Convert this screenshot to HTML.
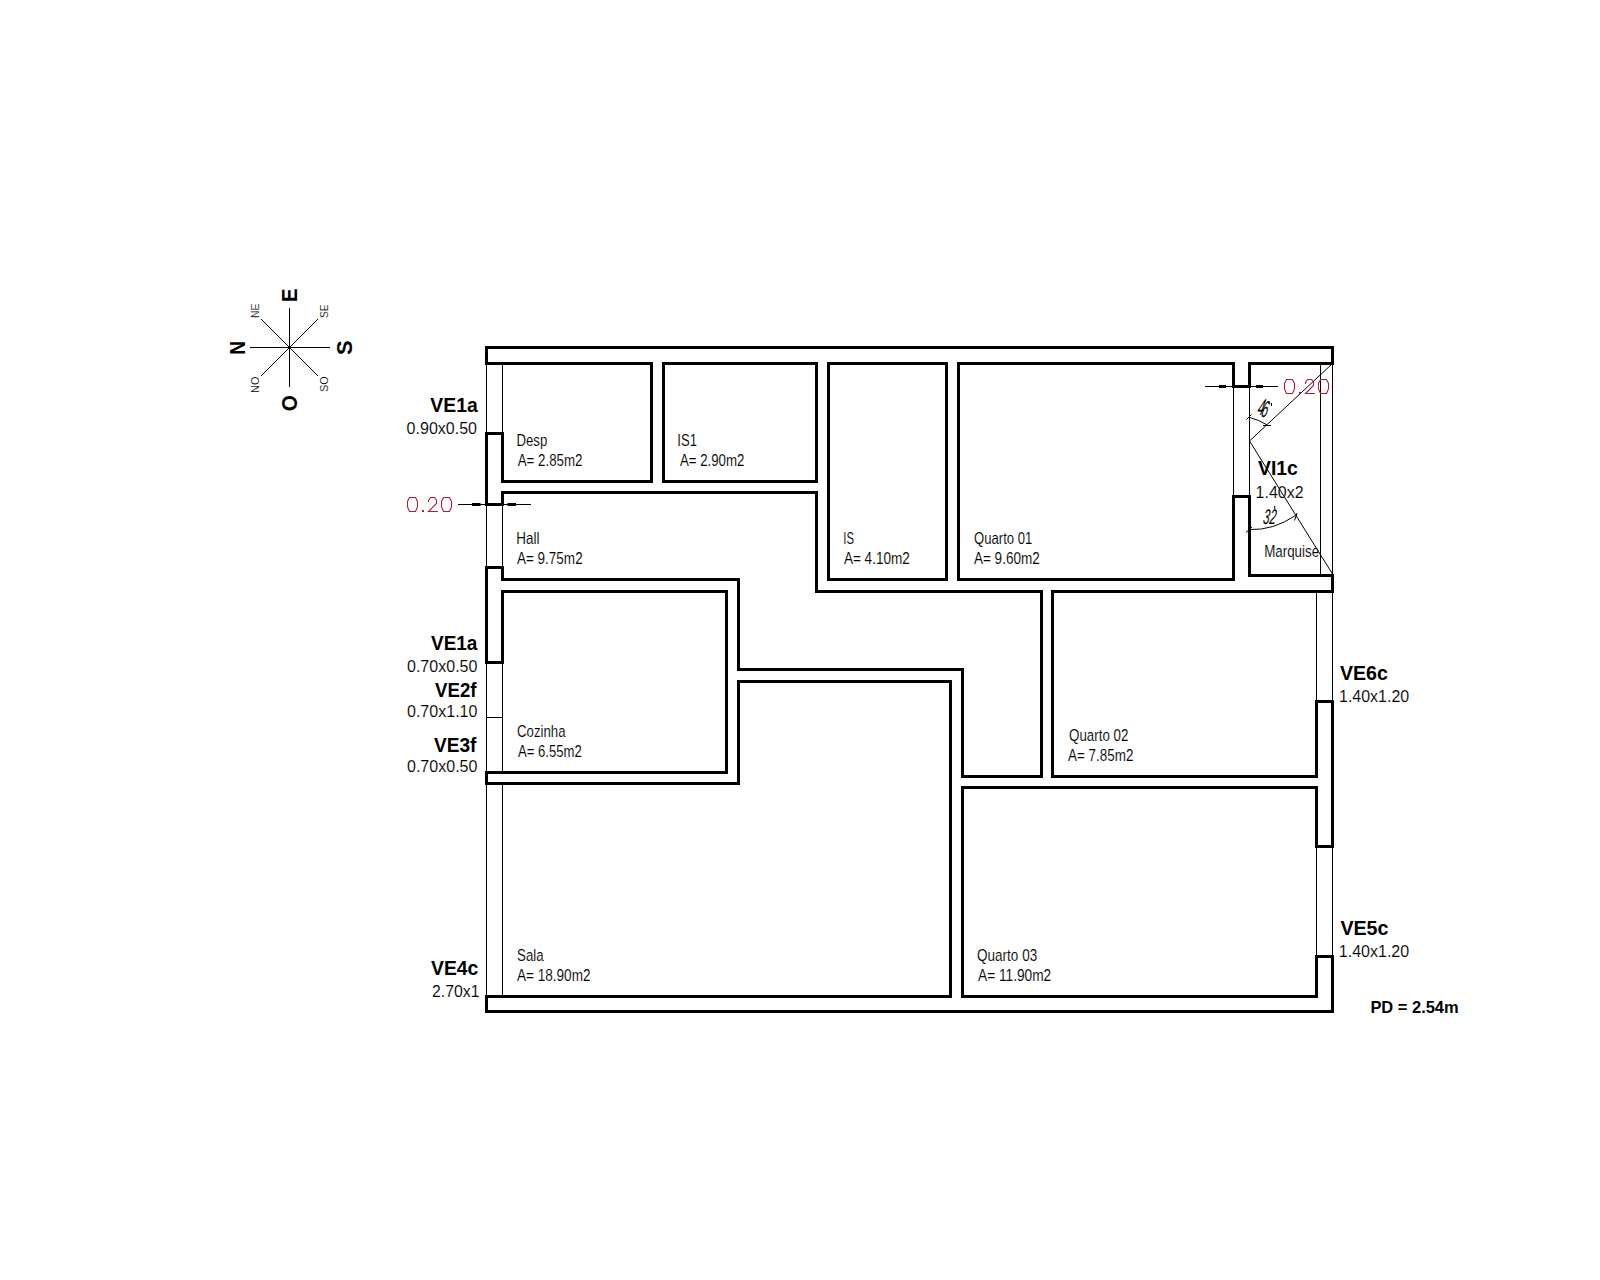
<!DOCTYPE html>
<html><head><meta charset="utf-8"><style>
html,body{margin:0;padding:0;background:#fff;}
svg{display:block;}
text{font-family:"Liberation Sans",sans-serif;}
</style></head><body>
<svg width="1600" height="1280" viewBox="0 0 1600 1280">
<rect width="1600" height="1280" fill="#fff"/>
<g fill="none" stroke="#000" stroke-width="3" stroke-linejoin="miter" stroke-linecap="square">
<path d="M486.5,363.5 V347.5 H1332.5 V363.5"/>
<path d="M486.5,363.5 H502.5"/>
<path d="M502.5,433.5 V481.5 H651.5 V363.5 H502.5"/>
<path d="M663.5,363.5 V481.5 H816.5 V363.5 Z"/>
<path d="M828.5,363.5 V579.5 H946.5 V363.5 Z"/>
<path d="M1233.5,386.5 V363.5 H958.5 V579.5 H1233.5 V496.5"/>
<path d="M1249.5,386.5 V363.5 H1332.5"/>
<path d="M1249.5,496.5 V575.5 H1332.5 V591.5"/>
<path d="M1233.5,496.5 H1249.5"/>
<path d="M486.5,433.5 H502.5"/>
<path d="M486.5,433.5 V504.5"/>
<path d="M502.5,492.5 V504.5"/>
<path d="M486.5,504.5 H502.5"/>
<path d="M486.5,567.5 H502.5"/>
<path d="M486.5,567.5 V662.5 H502.5"/>
<path d="M502.5,567.5 V579.5"/>
<path d="M502.5,492.5 H816.5 V591.5 H1041.5 V776.5 H962.5 V669.5 H738.5 V579.5 H502.5"/>
<path d="M502.5,662.5 V591.5 H726.5 V772.5 H486.5 V783.5 H738.5 V681.5 H950.5 V996.5 H486.5 V1011.5 H1332.5 V956.5 H1316.5 V996.5 H962.5 V787.5 H1316.5 V846.5 H1332.5 V701.5 H1316.5 V776.5 H1052.5 V591.5 H1332.5 V575.5"/>
<path d="M1233.5,386.5 H1249.5"/>
</g>
<g fill="none" stroke="#000" stroke-width="1" stroke-linecap="butt">
<path d="M502.5,363.5 V433.5"/>
<path d="M1233.5,386.5 V496.5"/>
<path d="M1249.5,386.5 V496.5"/>
<path d="M1320.5,363.5 V575.5"/>
<path d="M1332.5,363.5 V575.5"/>
<path d="M486.5,363.5 V433.5"/>
<path d="M486.5,504.5 V567.5"/>
<path d="M502.5,504.5 V567.5"/>
<path d="M486.5,662.5 V772.5"/>
<path d="M502.5,662.5 V772.5"/>
<path d="M486.5,717.5 H502.5"/>
<path d="M486.5,783.5 V996.5"/>
<path d="M502.5,783.5 V996.5"/>
<path d="M1316.5,591.5 V701.5"/>
<path d="M1332.5,591.5 V701.5"/>
<path d="M1316.5,846.5 V956.5"/>
<path d="M1332.5,846.5 V956.5"/>
<path d="M458,504.5 H531"/>
<path d="M1205,386.5 H1278"/>
<path d="M1332.5,363.5 L1249.5,441 L1332.5,574"/>
<path d="M1249.5,417.5 Q1258,419.4 1266.9,424.8"/>
<path d="M1246.5,419.5 L1251.5,414.5"/>
<path d="M1263,425.5 L1271,425.5"/>
<path d="M1250,529.5 Q1273,530.5 1295.5,515.5"/>
<path d="M1246,532.5 L1252,527"/>
<path d="M1294.5,520.5 L1297,513"/>
<path d="M289.5,308 V387"/>
<path d="M250,347.5 H330"/>
<path d="M261,319 L318,376"/>
<path d="M318,319 L261,376"/>
</g>
<g fill="#000">
<rect x="472" y="503" width="8.5" height="3"/>
<rect x="507.5" y="503" width="8.5" height="3"/>
<rect x="1219" y="385" width="7" height="3"/>
<rect x="1256" y="385" width="7" height="3"/>
<circle cx="289.5" cy="347.5" r="1.6"/>
<g fill="none" stroke="#b4193c" stroke-width="1.1"><path d="M409.5,497.5 H415.5 L417.5,501.5 V507 L415.5,511.5 H409.5 L407.5,507 V501.5 Z"/><path d="M428.5,502 V500.5 L430.5,497.5 H434.5 L436.5,500 V503.5 L428.5,511.5 H438"/><path d="M443.5,497.5 H449.5 L451.5,501.5 V507 L449.5,511.5 H443.5 L441.5,507 V501.5 Z"/><rect x="422" y="510" width="2" height="2" fill="#b4193c" stroke="none"/></g>
<g transform="translate(877,-118)" fill="none" stroke="#b4193c" stroke-width="1.1"><path d="M409.5,497.5 H415.5 L417.5,501.5 V507 L415.5,511.5 H409.5 L407.5,507 V501.5 Z"/><path d="M428.5,502 V500.5 L430.5,497.5 H434.5 L436.5,500 V503.5 L428.5,511.5 H438"/><path d="M443.5,497.5 H449.5 L451.5,501.5 V507 L449.5,511.5 H443.5 L441.5,507 V501.5 Z"/><rect x="422" y="510" width="2" height="2" fill="#b4193c" stroke="none"/></g>
</g>
<text transform="translate(1256.5,415) skewX(-14) scale(0.5,1)" font-size="23" font-style="italic" fill="#000">4</text>
<text transform="translate(1260.3,417) skewX(-14) scale(0.5,1)" font-size="23" font-style="italic" fill="#000">6</text>
<path d="M1268.5,401 L1269.3,404.5 M1271.5,403 L1271.5,406" stroke="#000" stroke-width="1" fill="none"/>
<text transform="translate(1262.5,524) skewX(-8) scale(0.55,1)" font-size="21" font-style="italic" fill="#000">32</text>
<path d="M1274.7,506 V509" stroke="#000" stroke-width="1" fill="none"/>
<text transform="translate(516.42,446.00) scale(0.8005,1)" font-size="16.5" font-weight="400" fill="#000" stroke="#fff" stroke-width="0.12">Desp</text>
<text transform="translate(517.74,466.00) scale(0.8077,1)" font-size="16.5" font-weight="400" fill="#000" stroke="#fff" stroke-width="0.12">A= 2.85m2</text>
<text transform="translate(677.29,446.00) scale(0.7939,1)" font-size="16.5" font-weight="400" fill="#000" stroke="#fff" stroke-width="0.12">IS1</text>
<text transform="translate(679.93,466.00) scale(0.8038,1)" font-size="16.5" font-weight="400" fill="#000" stroke="#fff" stroke-width="0.12">A= 2.90m2</text>
<text transform="translate(516.22,544.00) scale(0.8165,1)" font-size="16.5" font-weight="400" fill="#000" stroke="#fff" stroke-width="0.12">Hall</text>
<text transform="translate(516.89,564.00) scale(0.8197,1)" font-size="16.5" font-weight="400" fill="#000" stroke="#fff" stroke-width="0.12">A= 9.75m2</text>
<text transform="translate(843.34,544.00) scale(0.6834,1)" font-size="16.5" font-weight="400" fill="#000" stroke="#fff" stroke-width="0.12">IS</text>
<text transform="translate(843.88,564.00) scale(0.8228,1)" font-size="16.5" font-weight="400" fill="#000" stroke="#fff" stroke-width="0.12">A= 4.10m2</text>
<text transform="translate(974.07,544.00) scale(0.7931,1)" font-size="16.5" font-weight="400" fill="#000" stroke="#fff" stroke-width="0.12">Quarto 01</text>
<text transform="translate(973.88,564.00) scale(0.8228,1)" font-size="16.5" font-weight="400" fill="#000" stroke="#fff" stroke-width="0.12">A= 9.60m2</text>
<text transform="translate(1264.19,557.40) scale(0.8102,1)" font-size="16.5" font-weight="400" fill="#000" stroke="#fff" stroke-width="0.12">Marquise</text>
<text transform="translate(517.06,737.00) scale(0.8008,1)" font-size="16.5" font-weight="400" fill="#000" stroke="#fff" stroke-width="0.12">Cozinha</text>
<text transform="translate(517.94,757.00) scale(0.7965,1)" font-size="16.5" font-weight="400" fill="#000" stroke="#fff" stroke-width="0.12">A= 6.55m2</text>
<text transform="translate(1069.06,741.00) scale(0.8085,1)" font-size="16.5" font-weight="400" fill="#000" stroke="#fff" stroke-width="0.12">Quarto 02</text>
<text transform="translate(1068.00,761.00) scale(0.8152,1)" font-size="16.5" font-weight="400" fill="#000" stroke="#fff" stroke-width="0.12">A= 7.85m2</text>
<text transform="translate(517.09,961.00) scale(0.8033,1)" font-size="16.5" font-weight="400" fill="#000" stroke="#fff" stroke-width="0.12">Sala</text>
<text transform="translate(517.00,981.00) scale(0.8224,1)" font-size="16.5" font-weight="400" fill="#000" stroke="#fff" stroke-width="0.12">A= 18.90m2</text>
<text transform="translate(977.05,961.00) scale(0.8198,1)" font-size="16.5" font-weight="400" fill="#000" stroke="#fff" stroke-width="0.12">Quarto 03</text>
<text transform="translate(978.00,981.00) scale(0.8309,1)" font-size="16.5" font-weight="400" fill="#000" stroke="#fff" stroke-width="0.12">A= 11.90m2</text>
<text transform="translate(430.37,412.40) scale(0.9703,1)" font-size="20" font-weight="700" fill="#000">VE1a</text>
<text transform="translate(406.60,433.80) scale(0.9722,1)" font-size="16.5" font-weight="400" fill="#000" stroke="#fff" stroke-width="0.12">0.90x0.50</text>
<text transform="translate(431.00,650.00) scale(0.9491,1)" font-size="20" font-weight="700" fill="#000">VE1a</text>
<text transform="translate(407.00,672.00) scale(0.9722,1)" font-size="16.5" font-weight="400" fill="#000" stroke="#fff" stroke-width="0.12">0.70x0.50</text>
<text transform="translate(435.00,697.00) scale(0.9333,1)" font-size="20" font-weight="700" fill="#000">VE2f</text>
<text transform="translate(407.00,717.00) scale(0.9722,1)" font-size="16.5" font-weight="400" fill="#000" stroke="#fff" stroke-width="0.12">0.70x1.10</text>
<text transform="translate(434.00,752.00) scale(0.9556,1)" font-size="20" font-weight="700" fill="#000">VE3f</text>
<text transform="translate(407.00,772.00) scale(0.9722,1)" font-size="16.5" font-weight="400" fill="#000" stroke="#fff" stroke-width="0.12">0.70x0.50</text>
<text transform="translate(430.98,975.00) scale(0.9695,1)" font-size="20" font-weight="700" fill="#000">VE4c</text>
<text transform="translate(432.02,997.00) scale(0.9592,1)" font-size="16.5" font-weight="400" fill="#000" stroke="#fff" stroke-width="0.12">2.70x1</text>
<text transform="translate(1340.00,680.00) scale(0.9796,1)" font-size="20" font-weight="700" fill="#000">VE6c</text>
<text transform="translate(1339.01,702.00) scale(0.9690,1)" font-size="16.5" font-weight="400" fill="#000" stroke="#fff" stroke-width="0.12">1.40x1.20</text>
<text transform="translate(1340.38,935.00) scale(0.9839,1)" font-size="20" font-weight="700" fill="#000">VE5c</text>
<text transform="translate(1338.83,957.00) scale(0.9705,1)" font-size="16.5" font-weight="400" fill="#000" stroke="#fff" stroke-width="0.12">1.40x1.20</text>
<text transform="translate(1257.99,475.20) scale(0.9683,1)" font-size="20" font-weight="700" fill="#000">VI1c</text>
<text transform="translate(1255.61,498.00) scale(0.9676,1)" font-size="16.5" font-weight="400" fill="#000" stroke="#fff" stroke-width="0.12">1.40x2</text>
<text transform="translate(1370.40,1012.60) scale(0.9978,1)" font-size="16.5" font-weight="700" fill="#000">PD = 2.54m</text>
<text transform="translate(297.00,301.92) rotate(-90) scale(0.9231,1)" font-size="22" font-weight="700" fill="#000">E</text>
<text transform="translate(244.60,354.78) rotate(-90) scale(0.8666,1)" font-size="22" font-weight="700" fill="#000">N</text>
<text transform="translate(352.00,355.00) rotate(-90) scale(1.0000,1)" font-size="22" font-weight="700" fill="#000">S</text>
<text transform="translate(297.00,411.36) rotate(-90) scale(0.9375,1)" font-size="22" font-weight="700" fill="#000">O</text>
<text transform="translate(259.00,317.97) rotate(-90) scale(0.9474,1)" font-size="11" font-weight="400" fill="#000" stroke="#fff" stroke-width="0.12">NE</text>
<text transform="translate(328.00,317.98) rotate(-90) scale(0.9286,1)" font-size="11" font-weight="400" fill="#000" stroke="#fff" stroke-width="0.12">SE</text>
<text transform="translate(259.00,393.00) rotate(-90) scale(1.0000,1)" font-size="11" font-weight="400" fill="#000" stroke="#fff" stroke-width="0.12">NO</text>
<text transform="translate(328.00,392.00) rotate(-90) scale(1.0000,1)" font-size="11" font-weight="400" fill="#000" stroke="#fff" stroke-width="0.12">SO</text>
</svg>
</body></html>
